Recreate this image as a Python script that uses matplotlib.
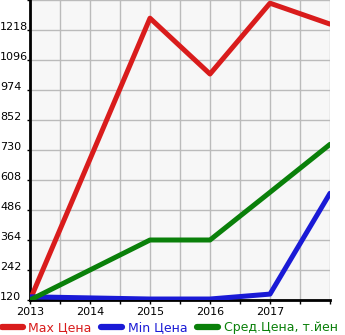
import matplotlib.pyplot as plt
import numpy as np

years = [2013, 2015, 2016, 2017, 2018]
max_price = [120, 1266, 1039, 1327, 1242]
min_price = [133, 124, 124, 144, 554]
avg_price = [120, 364, 364, 558, 753]

y_ticks = [120, 242, 364, 486, 608, 730, 852, 974, 1096, 1218]
x_labels = ['2013', '2014', '2015', '2016', '2017']

red = '#d91c1c'
blue = '#1a1ad6'
green = '#0a800a'

fig = plt.figure(figsize=(3.45, 3.35), dpi=100)
ax = fig.add_axes([30 / 345, 35 / 335, 300 / 345, 300 / 335])
ax.set_facecolor('#f7f7f7')

ax.plot(years, max_price, color=red, lw=3.6, solid_capstyle='round', label='Max Цена', zorder=3)
ax.plot(years, min_price, color=blue, lw=3.6, solid_capstyle='round', label='Min Цена', zorder=3)
ax.plot(years, avg_price, color=green, lw=3.6, solid_capstyle='round', label='Сред.Цена, т.йен', zorder=3)

ax.set_xlim(2013, 2018)
ax.set_ylim(120, 1340)
ax.set_xticks([2013, 2014, 2015, 2016, 2017, 2018])
ax.set_xticklabels(x_labels + [''], fontsize=8)
ax.set_xticks(np.arange(2013.5, 2018, 1.0), minor=True)
ax.set_yticks(y_ticks + [1340])
ax.set_yticklabels([str(v) for v in y_ticks] + [''], fontsize=8, ha='left', va='baseline')
ax.tick_params(axis='y', length=2, width=1, pad=19.5)
ax.tick_params(axis='x', which='both', length=3, width=1, pad=2)
ax.grid(True, which='both', color='#bbbbbb', lw=1)
ax.set_axisbelow(True)

for s in ['top', 'right']:
    ax.spines[s].set_visible(False)
ax.spines['left'].set_linewidth(2)
ax.spines['bottom'].set_linewidth(2)

leg = fig.legend(loc='lower left', bbox_to_anchor=(-0.01, -0.012), ncol=3, frameon=False,
                 fontsize=9, handlelength=1.7, handletextpad=0.45, columnspacing=0.75,
                 labelcolor='linecolor', borderaxespad=0)
for h in leg.get_lines():
    h.set_linewidth(4.5)

fig.savefig('out.png', dpi=100)
